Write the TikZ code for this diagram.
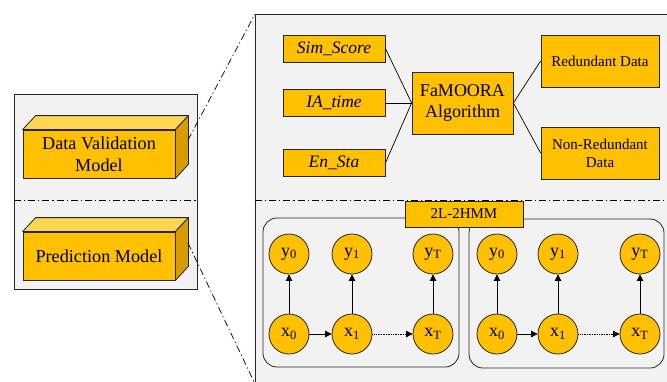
\documentclass[tikz,border=0pt]{standalone}
\usepackage{fontspec}
\setmainfont{Liberation Serif}
\usetikzlibrary{arrows.meta}
\definecolor{boxfill}{HTML}{FFC000}
\definecolor{boxtop}{HTML}{FFD653}
\definecolor{boxside}{HTML}{D99C00}
\definecolor{panel}{HTML}{F2F2F2}
\tikzset{
  panelbox/.style={draw=black!85, fill=panel, line width=0.8pt},
  dashdot/.style={line width=0.7pt, dash pattern=on 7pt off 3pt on 1.2pt off 3pt},
  orangebox/.style={draw=black!85, fill=boxfill, line width=0.8pt, inner sep=0pt, align=center},
  front/.style={orangebox, minimum width=152pt, minimum height=48pt, font=\fontsize{18.2}{22}\selectfont},
  inbox/.style={orangebox, minimum width=102pt, minimum height=27pt, font=\fontsize{17.5}{19}\selectfont\itshape},
  outbox/.style={orangebox, minimum width=118pt, minimum height=52pt, font=\fontsize{15}{18}\selectfont},
  state/.style={circle, draw=black!85, fill=boxfill, line width=0.8pt, minimum size=40pt, inner sep=0pt, font=\fontsize{18}{18}\selectfont},
  link/.style={line width=0.7pt},
  arr/.style={line width=0.7pt, -{Triangle[length=6.5pt,width=6.5pt]}},
  group/.style={draw=black!85, line width=0.8pt, rounded corners=14pt},
}
\begin{document}
\begin{tikzpicture}[x=1pt, y=-1pt]
\useasboundingbox (0,0) rectangle (667,381);

% ---------- left panel ----------
\draw[panelbox] (14,94) rectangle (197,289);
\draw[dashdot] (14,200.5) -- (197,200.5);

% cuboid: Data Validation Model
\node[front] (dv) at (99,154) {Data Validation\\Model};
\filldraw[draw=black!85, fill=boxtop, line width=0.8pt, line join=round]
  (dv.north west) -- (dv.north east) -- ([shift={(13,-14)}]dv.north east)
  -- ([shift={(13,-14)}]dv.north west) -- cycle;
\filldraw[draw=black!85, fill=boxside, line width=0.8pt, line join=round]
  (dv.north east) -- ([shift={(13,-14)}]dv.north east)
  -- ([shift={(13,-14)}]dv.south east) -- (dv.south east) -- cycle;

% cuboid: Prediction Model
\node[front] (pm) at (99,256) {Prediction Model};
\filldraw[draw=black!85, fill=boxtop, line width=0.8pt, line join=round]
  (pm.north west) -- (pm.north east) -- ([shift={(13,-14)}]pm.north east)
  -- ([shift={(13,-14)}]pm.north west) -- cycle;
\filldraw[draw=black!85, fill=boxside, line width=0.8pt, line join=round]
  (pm.north east) -- ([shift={(13,-14)}]pm.north east)
  -- ([shift={(13,-14)}]pm.south east) -- (pm.south east) -- cycle;

% ---------- right panel ----------
\draw[panelbox] (255,14) rectangle (675,392);
\coordinate (rtop) at (255,14);
\coordinate (rbot) at (256,386);
\coordinate (dvside) at (188,140);
\coordinate (pmside) at (188,243);
\draw[dashdot] (dvside) -- (rtop);
\draw[dashdot] (pmside) -- (rbot);
\draw[dashdot] (255,200) -- (675,200);

% FaMOORA stage
\node[inbox] (sim) at (334,48.5) {Sim\_Score};
\node[inbox] (ia)  at (334,103) {IA\_time};
\node[inbox] (en)  at (334,163) {En\_Sta};
\node[orangebox, minimum width=101pt, minimum height=62pt, font=\fontsize{18}{21}\selectfont] (fa) at (462.5,103) {FaMOORA\\Algorithm};
\node[outbox] (red) at (600,61) {Redundant Data};
\node[outbox] (nred) at (600,153) {Non-Redundant\\Data};
\draw[link] (sim.east) -- (fa.west);
\draw[link] (ia.east) -- (fa.west);
\draw[link] (en.east) -- (fa.west);
\draw[link] (fa.east) -- (red.west);
\draw[link] (fa.east) -- (nred.west);

% 2L-2HMM stage
\draw[group] (263,218) rectangle (459,367);
\draw[group] (469,219) rectangle (664,368);
\node[orangebox, minimum width=118pt, minimum height=26pt, font=\fontsize{15}{15}\selectfont] (hmm) at (464,214) {2L-2HMM};

% first chain
\node[state] (ay0) at (289,254) {y\textsubscript{0}};
\node[state] (ay1) at (352,254) {y\textsubscript{1}};
\node[state] (ayT) at (433,254) {y\textsubscript{T}};
\node[state] (ax0) at (289,334) {x\textsubscript{0}};
\node[state] (ax1) at (352,334) {x\textsubscript{1}};
\node[state] (axT) at (433,334) {x\textsubscript{T}};
\draw[arr] (ax0) -- (ay0);
\draw[arr] (ax1) -- (ay1);
\draw[arr] (axT) -- (ayT);
\draw[arr] (ax0) -- (ax1);
\draw[arr, densely dotted] (ax1) -- (axT);

% second chain
\node[state] (by0) at (497,254) {y\textsubscript{0}};
\node[state] (by1) at (558,254) {y\textsubscript{1}};
\node[state] (byT) at (640,254) {y\textsubscript{T}};
\node[state] (bx0) at (497,334) {x\textsubscript{0}};
\node[state] (bx1) at (558,334) {x\textsubscript{1}};
\node[state] (bxT) at (640,334) {x\textsubscript{T}};
\draw[arr] (bx0) -- (by0);
\draw[arr] (bx1) -- (by1);
\draw[arr] (bxT) -- (byT);
\draw[arr] (bx0) -- (bx1);
\draw[arr, densely dotted] (bx1) -- (bxT);
\end{tikzpicture}
\end{document}
